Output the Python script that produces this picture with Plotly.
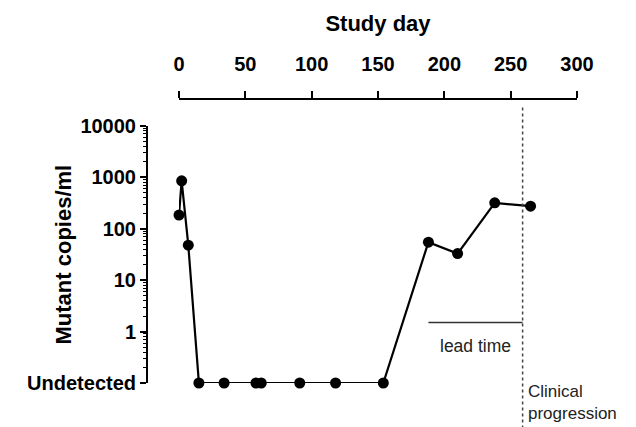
import math
import plotly.graph_objects as go

# ---- data ----
study_day = [0, 2, 7, 15, 34, 58, 62, 91, 118, 154, 188, 210, 238, 265]
# 0 means "Undetected"
mutant_copies = [185, 860, 48, 0, 0, 0, 0, 0, 0, 0, 55, 33, 320, 275]
UNDETECTED_LEVEL = 0.1
y_tickvals = [0.1, 1, 10, 100, 1000, 10000]
y_ticktext = ["Undetected", "1", "10", "100", "1000", "10000"]
x_tickvals = [0, 50, 100, 150, 200, 250, 300]
progression_day = 259
lead_start_day = 188
lead_line_level = 1.5

y_plot = [v if v > 0 else UNDETECTED_LEVEL for v in mutant_copies]
minor_vals = [k * 10 ** e for e in range(-1, 4) for k in range(2, 10)]

FONT = "Liberation Sans, Arial, sans-serif"
TXT = "#222222"

L, R, T, B = 147, 59, 99, 44
W, H = 636, 427
PW, PH = W - L - R, H - T - B

fig = go.Figure()
fig.add_trace(go.Scatter(
    x=study_day, y=y_plot, mode="lines+markers",
    line=dict(color="black", width=2.2),
    marker=dict(color="black", size=11),
    cliponaxis=False, showlegend=False,
))

# clinical progression dotted line
fig.add_shape(type="line", xref="x", yref="paper",
              x0=progression_day, x1=progression_day, y0=-0.16, y1=0.975,
              line=dict(color="#444444", width=1.5, dash="dot"))
# lead time line
fig.add_shape(type="line", xref="x", yref="y",
              x0=lead_start_day, x1=progression_day,
              y0=lead_line_level, y1=lead_line_level,
              line=dict(color="#333333", width=1.5))

fig.add_annotation(x=(lead_start_day + progression_day) / 2, y=math.log10(lead_line_level),
                   xref="x", yref="y", text="lead time", showarrow=False,
                   yanchor="top", yshift=-11,
                   font=dict(family=FONT, size=17.5, color=TXT))
fig.add_annotation(x=progression_day, y=0.0, xref="x", yref="paper",
                   text="Clinical<br>progression", showarrow=False,
                   xanchor="left", yanchor="top", xshift=3, yshift=3, align="left",
                   font=dict(family=FONT, size=17, color=TXT))

# y-axis title (placed like the reference, overlapping the tick-label column)
fig.add_annotation(x=(63 - L) / PW, y=(257 / PH) / 2, xref="paper", yref="paper",
                   text="<b>Mutant copies/ml</b>", textangle=-90, showarrow=False,
                   xanchor="center", yanchor="middle",
                   font=dict(family=FONT, size=22, color="black"))

fig.update_layout(
    width=W, height=H,
    margin=dict(l=L, r=R, t=T, b=B),
    paper_bgcolor="white", plot_bgcolor="white",
    font=dict(family=FONT, color="black"),
    xaxis=dict(
        side="top", anchor="free", position=1, automargin=False,
        domain=[32 / PW, 1],
        range=[0, 300], tickvals=x_tickvals,
        showgrid=False, zeroline=False,
        showline=True, linecolor="black", linewidth=2,
        ticks="outside", ticklen=7, tickwidth=2, tickcolor="black",
        ticklabelstandoff=12,
        tickfont=dict(family=FONT, size=20, color="black", weight="bold"),
        title=dict(text="<b>Study day</b>", font=dict(family=FONT, size=22, color="black"),
                   standoff=14),
    ),
    yaxis=dict(
        type="log", anchor="free", position=0, automargin=False,
        domain=[0, 257 / PH],
        range=[-1, 4],
        tickvals=y_tickvals, ticktext=y_ticktext,
        showgrid=False, zeroline=False,
        showline=True, linecolor="black", linewidth=2,
        ticks="outside", ticklen=6, tickwidth=2, tickcolor="black",
        tickfont=dict(family=FONT, size=20, color="black", weight="bold"),
        minor=dict(tickvals=minor_vals, ticks="outside", ticklen=3,
                   tickwidth=1, tickcolor="black", showgrid=False),
    ),
)

fig.write_html("out.html")
